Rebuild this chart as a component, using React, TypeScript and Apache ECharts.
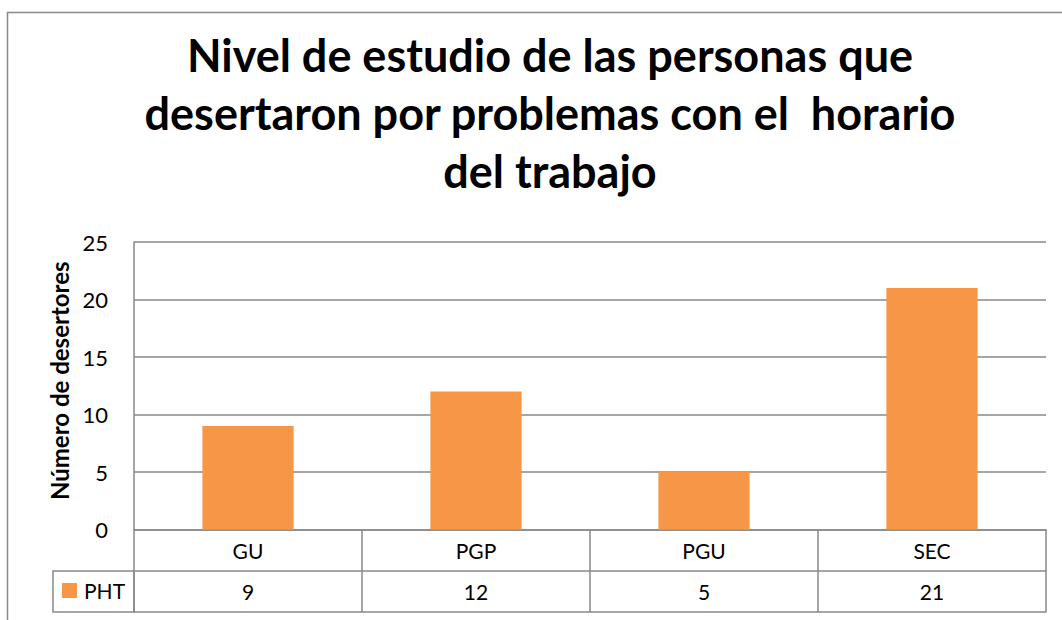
import React, { useEffect, useRef } from "react";
import * as echarts from "echarts";

const titleLines = [
  "Nivel de estudio de las personas que",
  "desertaron por problemas con el  horario",
  "del trabajo",
];
const categories = ["GU", "PGP", "PGU", "SEC"];
const seriesName = "PHT";
const values = [9, 12, 5, 21];
const yAxisName = "Número de desertores";
const yMin = 0;
const yMax = 25;
const yInterval = 5;

const GRAY = "#898989";
const ORANGE = "#F79646";
const FONT = "Lato, 'Open Sans', sans-serif";

export default function App() {
  const ref = useRef<HTMLDivElement>(null);
  useEffect(() => {
    if (!ref.current) return;
    const chart = echarts.init(ref.current, undefined, { renderer: "svg" });
    chart.setOption({
      animation: false,
      backgroundColor: "#ffffff",
      title: {
        text: titleLines.join("\n"),
        left: 545,
        top: 21,
        textAlign: "center",
        textStyle: {
          fontFamily: FONT,
          fontWeight: "bold",
          fontSize: 45,
          lineHeight: 58,
          color: "#000000",
        },
      },
      legend: {
        data: [seriesName],
        left: 62,
        top: 580,
        padding: 0,
        itemWidth: 15,
        itemHeight: 15,
        icon: "rect",
        textStyle: { fontFamily: FONT, fontSize: 21, color: "#000", padding: [0, 0, 0, 2] },
      },
      grid: { left: 134, top: 242, right: 16, bottom: 90.5, containLabel: false },
      xAxis: [
        {
          type: "category",
          data: categories,
          position: "bottom",
          axisLine: { show: true, lineStyle: { color: GRAY, width: 1.5 } },
          axisTick: { show: true, length: 82.5, interval: 0, lineStyle: { color: GRAY, width: 1.5 } },
          axisLabel: {
            margin: 21,
            verticalAlign: "middle",
            fontFamily: FONT,
            fontSize: 21,
            color: "#000",
          },
          splitLine: { show: false },
        },
        {
          type: "category",
          data: values.map(String),
          position: "bottom",
          offset: 41.5,
          axisLine: { show: true, lineStyle: { color: GRAY, width: 1.5 } },
          axisTick: { show: false },
          axisLabel: {
            margin: 20.5,
            verticalAlign: "middle",
            fontFamily: FONT,
            fontSize: 21,
            color: "#000",
          },
        },
        {
          type: "category",
          data: categories,
          position: "bottom",
          offset: 82.5,
          axisLine: { show: true, lineStyle: { color: GRAY, width: 1.5 } },
          axisTick: { show: false },
          axisLabel: { show: false },
        },
      ],
      yAxis: {
        type: "value",
        min: yMin,
        max: yMax,
        interval: yInterval,
        name: yAxisName,
        nameLocation: "middle",
        nameGap: 62,
        nameRotate: 90,
        nameTextStyle: { fontFamily: FONT, fontWeight: "bold", fontSize: 24, color: "#000", padding: [0, 0, 0, 10] },
        axisLine: { show: true, lineStyle: { color: GRAY, width: 1.5 } },
        axisTick: { show: false },
        axisLabel: { margin: 26, fontFamily: FONT, fontSize: 22, color: "#000" },
        splitLine: { show: true, lineStyle: { color: GRAY, width: 1.5 } },
      },
      series: [
        {
          name: seriesName,
          type: "bar",
          data: values,
          barWidth: "40%",
          itemStyle: { color: ORANGE },
        },
      ],
      graphic: [
        {
          type: "rect",
          shape: { x: 7.5, y: 12.5, width: 1200, height: 800 },
          style: { fill: "none", stroke: GRAY, lineWidth: 1.5 },
          silent: true,
          z: -1,
        },
        {
          type: "rect",
          shape: { x: 53, y: 571, width: 81, height: 41 },
          style: { fill: "none", stroke: GRAY, lineWidth: 1.5 },
          silent: true,
        },
      ],
    });
    return () => chart.dispose();
  }, []);
  return (
    <div
      ref={ref}
      style={{ position: "absolute", left: 0, top: 0, width: 1062, height: 620 }}
    />
  );
}
